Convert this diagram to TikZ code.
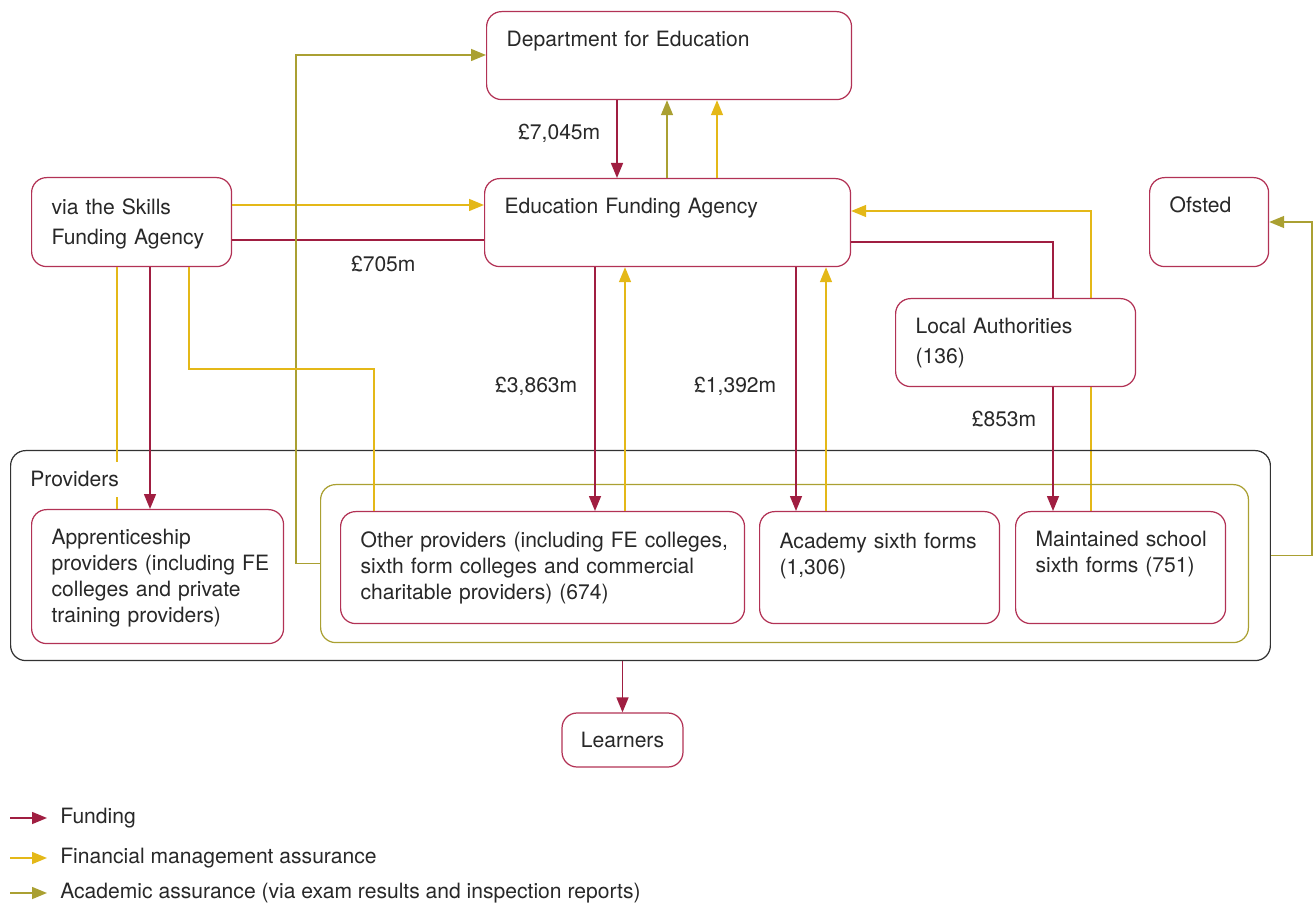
\documentclass[tikz,border=0pt]{standalone}
\usepackage{fontspec}
\setmainfont{TeX Gyre Heros}
\usetikzlibrary{arrows.meta,backgrounds}
\definecolor{txt}{RGB}{40,40,40}
\definecolor{boxred}{RGB}{178,50,85}
\definecolor{fundcol}{RGB}{160,30,65}
\definecolor{fincol}{RGB}{228,184,24}
\definecolor{acadcol}{RGB}{170,160,50}
\definecolor{provcol}{RGB}{50,50,50}
\newcommand{\boxlines}[1]{\begin{tabular}[t]{@{}l@{}}#1\end{tabular}}

\begin{document}
\begin{tikzpicture}[x=0.02cm,y=-0.02cm,
  every node/.style={text=txt,font=\fontsize{12}{14.8}\selectfont},
  box/.style={draw=boxred,line width=0.7pt,rounded corners=0.3cm,anchor=north west,
    align=left,inner xsep=0.4cm,inner ysep=0pt,text height=0.7cm},
  fundline/.style={draw=fundcol,line width=0.85pt},
  finline/.style={draw=fincol,line width=0.85pt},
  fund/.style={fundline,-{Triangle[length=0.3cm,width=0.24cm]}},
  fin/.style={finline,-{Triangle[length=0.3cm,width=0.24cm]}},
  acad/.style={draw=acadcol,line width=0.85pt,-{Triangle[length=0.3cm,width=0.24cm]}},
  amount/.style={inner sep=0pt}]

	\useasboundingbox (0,0) rectangle (1315,908);

	\node[draw=provcol,line width=0.7pt,rounded corners=0.3cm,anchor=north west,
	      minimum width=25.2cm,minimum height=4.2cm,inner sep=0pt] (prov)  at (10,450)  {};
	\node[draw=acadcol,line width=0.7pt,rounded corners=0.3cm,anchor=north west,
	      minimum width=18.56cm,minimum height=3.16cm,inner sep=0pt] (inner) at (320,484) {};

	\node[box,text width=6.5cm,text depth=1.06cm]  (dfe)      at (486,11)   {Department for Education};
	\node[box,text width=6.52cm,text depth=1.06cm] (efa)      at (484,178)  {Education Funding Agency};
	\node[box,text width=3.2cm,text height=0.74cm,text depth=1.04cm] (sfa) at (31,177)
	      {\boxlines{via the Skills\\[2pt]Funding Agency}};
	\node[box,text width=1.58cm,text depth=1.08cm] (ofsted)   at (1149,177) {Ofsted};
	\node[box,fill=white,text width=4cm,text depth=1.06cm] (la) at (895,298)
	      {\boxlines{Local Authorities\\[2pt](136)}};
	\node[box,text width=4.24cm,text depth=1.98cm] (app)      at (31,509)
	      {\boxlines{Apprenticeship\\providers (including FE\\colleges and private\\training providers)}};
	\node[box,text width=7.28cm,text height=0.72cm,text depth=1.52cm] (other) at (340,511)
	      {\boxlines{Other providers (including FE colleges,\\sixth form colleges and commercial\\charitable providers) (674)}};
	\node[box,text width=4cm,text height=0.74cm,text depth=1.5cm] (academy) at (759,511)
	      {\boxlines{Academy sixth forms\\(1,306)}};
	\node[box,text width=3.4cm,text depth=1.54cm] (maint)     at (1015,511)
	      {\boxlines{Maintained school\\sixth forms (751)}};
	\node[draw=boxred,line width=0.7pt,rounded corners=0.3cm,minimum width=2.42cm,
	      minimum height=1.08cm] (learners) at (622.5,740) {Learners};

	\coordinate (dfefund)   at (617,0);
	\coordinate (dfeacad)   at (667,0);
	\coordinate (dfefin)    at (717,0);
	\coordinate (sfafin)    at (0,205);
	\coordinate (sfafund)   at (0,240);
	\coordinate (acadturn)  at (296,55);
	\coordinate (appfin)    at (117,0);
	\coordinate (appfund)   at (150,0);
	\coordinate (otherturn) at (374,369);
	\coordinate (otherfund) at (595,0);
	\coordinate (otherfin)  at (625,0);
	\coordinate (acafund)   at (796,0);
	\coordinate (acafin)    at (826,0);
	\coordinate (lafund)    at (1053,242);
	\coordinate (maintfin)  at (1091,211);
	\coordinate (ofturn)    at (1312,222);

	\draw[fund] (dfe.south -| dfefund) -- (efa.north -| dfefund)
	      node[amount,pos=0.43,left=0.32cm] {£7,045m};
	\draw[acad] (efa.north -| dfeacad) -- (dfe.south -| dfeacad);
	\draw[fin]  (efa.north -| dfefin)  -- (dfe.south -| dfefin);

	\draw[fin]      (sfa.east |- sfafin)  -- (efa.west |- sfafin);
	\draw[fundline] (sfa.east |- sfafund) -- (efa.west |- sfafund)
	      node[amount,pos=0.6,below=0.3cm] {£705m};
	\draw[acad] (inner.west) -| (acadturn) -- (dfe.west |- acadturn);

	\draw[finline] (sfa.south -| appfin) -- (app.north -| appfin);
	\draw[fund]    (sfa.south -| appfund) -- (app.north -| appfund);
	\draw[finline] (sfa.south -| 189,0) |- (otherturn) -- (other.north -| otherturn);

	\draw[fund] (efa.south -| otherfund) -- (other.north -| otherfund)
	      node[amount,pos=0.49,left=0.34cm] {£3,863m};
	\draw[fin]  (other.north -| otherfin) -- (efa.south -| otherfin);
	\draw[fund] (efa.south -| acafund) -- (academy.north -| acafund)
	      node[amount,pos=0.49,left=0.38cm] {£1,392m};
	\draw[fin]  (academy.north -| acafin) -- (efa.south -| acafin);

	\draw[fundline] (efa.east |- lafund) -| (la.north -| lafund);
	\draw[fund] (la.south -| lafund) -- (maint.north -| lafund)
	      node[amount,pos=0.26,left=0.32cm] {£853m};
	\begin{scope}[on background layer]
	\draw[fin] (maint.north -| maintfin) |- (efa.east |- maintfin);
	\end{scope}

	\draw[acad] (prov.east) -| (ofturn) -- (ofsted.east |- ofturn);
	\draw[fund] (prov.south -| learners.north) -- (learners.north);

	\node[fill=white,inner sep=0.2cm,anchor=base west] (provlabel) at (20,487) {Providers};

	\node[anchor=west,inner xsep=0.26cm] (legfund) at (47,818) {Funding};
	\node[anchor=west,inner xsep=0.26cm] (legfin)  at (47,858) {Financial management assurance};
	\node[anchor=west,inner xsep=0.26cm] (legacad) at (47,893)
	      {Academic assurance (via exam results and inspection reports)};
	\draw[fund] ([xshift=-0.74cm]legfund.west) -- (legfund.west);
	\draw[fin]  ([xshift=-0.74cm]legfin.west)  -- (legfin.west);
	\draw[acad] ([xshift=-0.74cm]legacad.west) -- (legacad.west);
\end{tikzpicture}
\end{document}
